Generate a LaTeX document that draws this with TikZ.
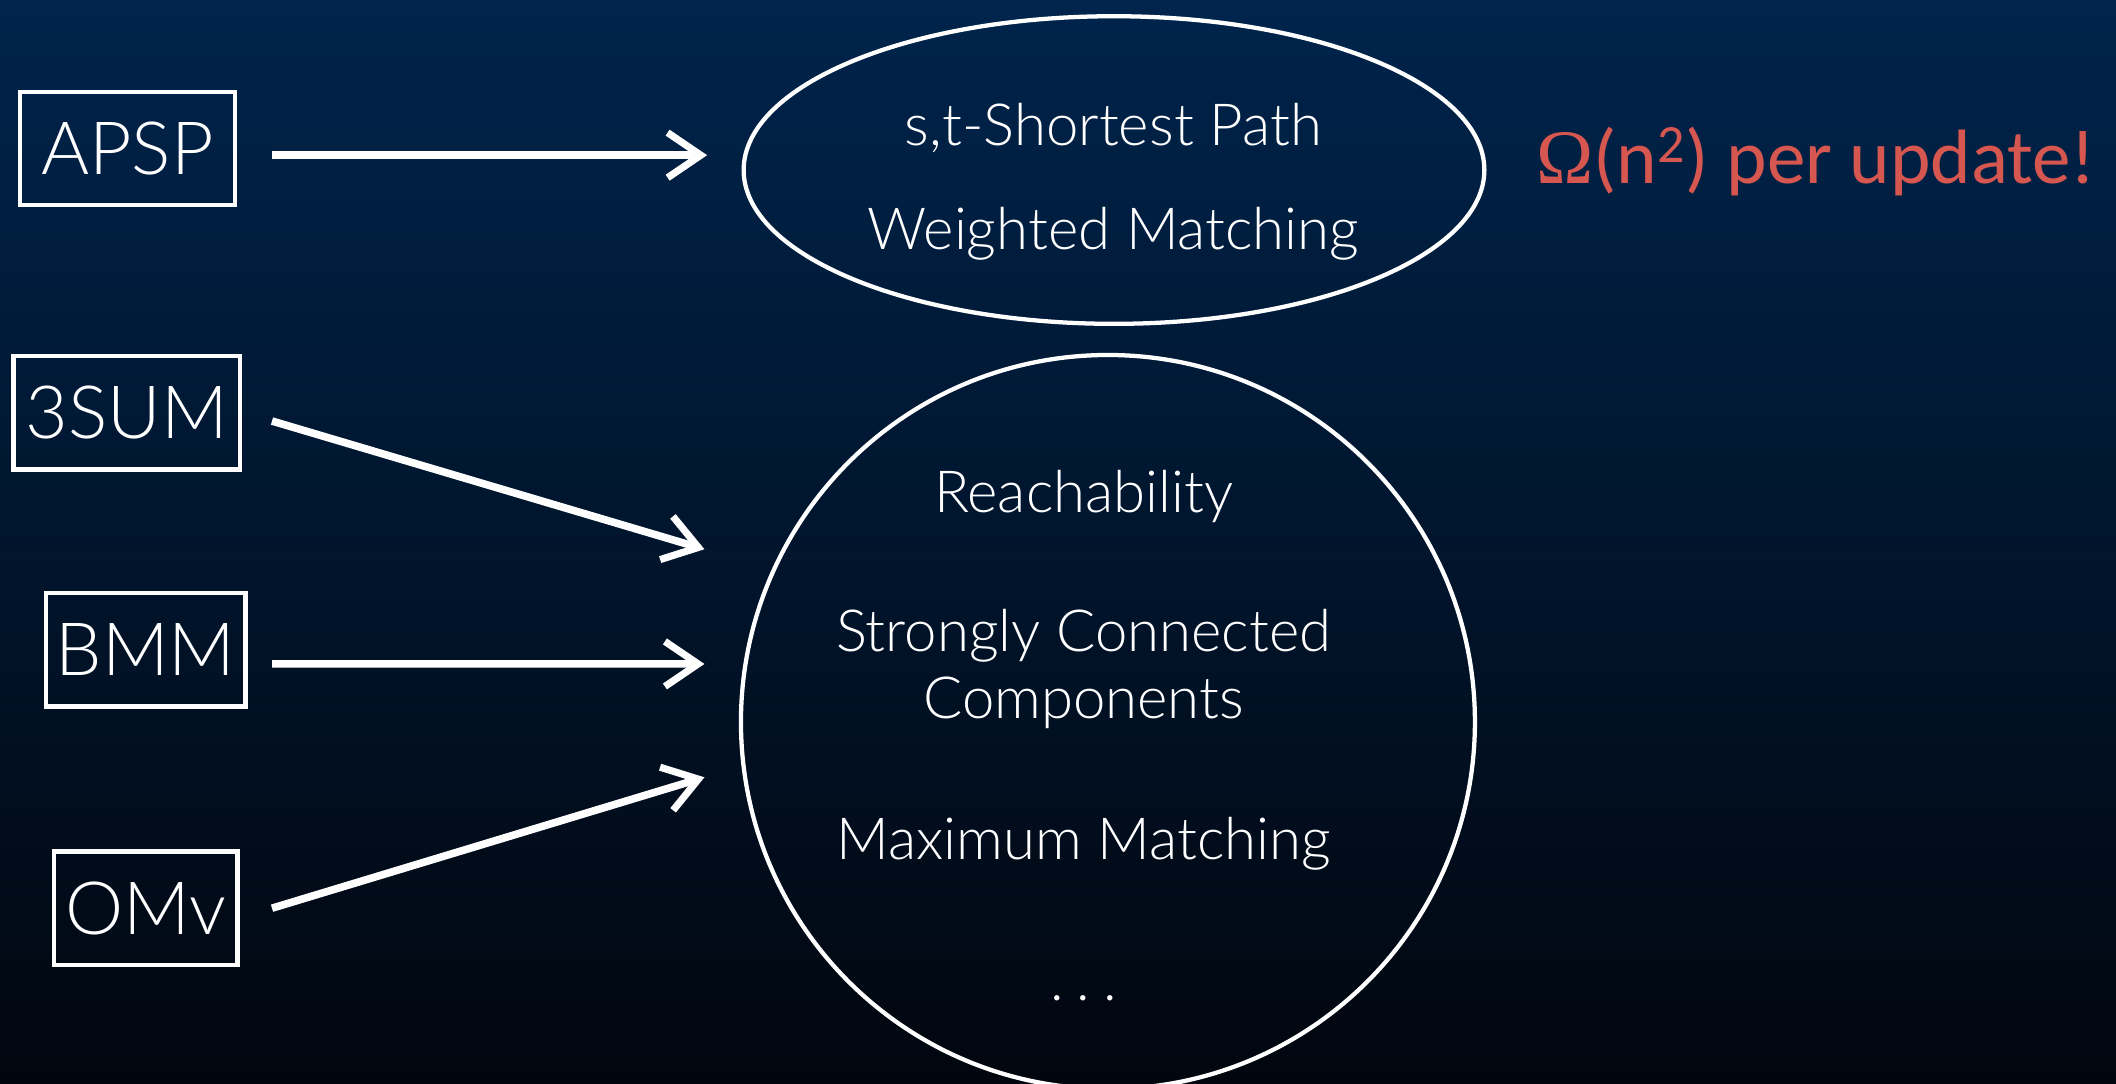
\documentclass[tikz,border=0pt]{standalone}
\usepackage{fontspec}
\setmainfont{Lato Light}
\newfontfamily\notefont{Carlito}
\newfontfamily\omegafont{Liberation Serif}
\usetikzlibrary{arrows.meta,shapes.geometric}
\definecolor{bgtop}{RGB}{0,36,76}
\definecolor{bgbot}{RGB}{1,6,14}
\definecolor{alertred}{RGB}{214,86,80}

\begin{document}
\begin{tikzpicture}[x=0.02cm,y=-0.02cm,
  probbox/.style={draw=white,line width=1.8pt,minimum height=1.68cm,inner sep=0pt,
    text=white,font=\fontsize{31}{35}\selectfont},
  itemtext/.style={text=white,font=\fontsize{24.5}{28.3}\selectfont,inner sep=0pt,align=center},
  group/.style={draw=white,line width=1.8pt,inner sep=0pt},
  arr/.style={white,line width=3.2pt,-{Straight Barb[length=14pt,width=19pt,line width=3pt]}}]

% background
\shade[top color=bgtop,bottom color=bgbot] (0,0) rectangle (1568,803);
\useasboundingbox (0,0) rectangle (1568,803);

% source problems
\node[probbox,minimum width=3.18cm] (apsp) at (94.5,110) {APSP};
\node[probbox,minimum width=3.36cm] (sum3) at (94,306) {3SUM};
\node[probbox,minimum width=2.96cm] (bmm) at (108,481.5) {BMM};
\node[probbox,minimum width=2.72cm] (omv) at (108,673) {OMv};

% target groups
\node[group,ellipse,minimum width=10.98cm,minimum height=4.56cm] (wgroup) at (825.5,126) {};
\node[group,circle,minimum size=10.88cm] (ugroup) at (821,535) {};

\node[itemtext] (stsp) at (825,95) {s,t-Shortest Path};
\node[itemtext] (wmatch) at (825,173) {Weighted Matching};

\node[itemtext] (reach) at (803,368) {Reachability};
\node[itemtext] (scc) at (803,496) {Strongly Connected\\Components};
\node[itemtext] (mmatch) at (803,625) {Maximum Matching};
\node[itemtext] (more) at (803,740) {.\hspace{0.22em}.\hspace{0.22em}.};

\node[anchor=base west,inner sep=0pt,text=alertred,font=\notefont\fontsize{32.5}{36}\selectfont]
  (bound) at (1138,136) {{\omegafont Ω}(n\textsuperscript{2}) per update!};

% reductions
\coordinate (tipa) at (524,115);
\coordinate (tipb) at (522,407);
\coordinate (tipc) at (522,492);
\coordinate (tipd) at (522,576);
\draw[arr] ([shift={(26,5)}]apsp.east) -- (tipa);
\draw[arr] ([shift={(22,6)}]sum3.east) -- (tipb);
\draw[arr] ([shift={(18,10.5)}]bmm.east) -- (tipc);
\draw[arr] ([shift={(24,0)}]omv.east) -- (tipd);
\end{tikzpicture}
\end{document}
